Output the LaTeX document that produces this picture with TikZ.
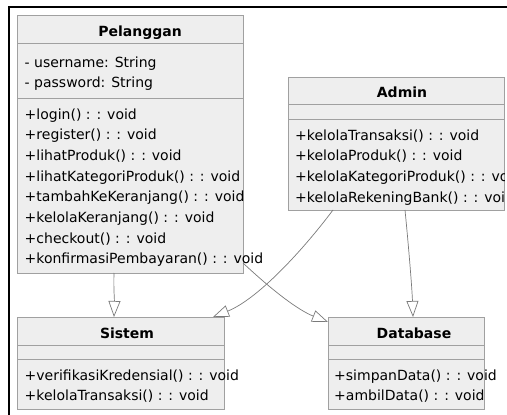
\documentclass[tikz,border=0pt]{standalone}
\usepackage{fontspec}
\setmainfont{DejaVu Sans}
\usetikzlibrary{arrows.meta}
\definecolor{boxfill}{HTML}{EEEEEE}
\definecolor{boxline}{HTML}{A0A0A0}
\definecolor{linkgray}{HTML}{7A7A7A}
\tikzset{
  umlbox/.style={draw=boxline, fill=boxfill, line width=0.8pt, anchor=north west,
    inner sep=0pt, outer sep=0pt},
  sepline/.style={draw=boxline, line width=0.8pt},
  member/.style={anchor=base west, inner sep=0pt, font=\fontsize{14}{16}\selectfont},
  classname/.style={anchor=base, inner sep=0pt, font=\fontsize{14}{16}\selectfont\bfseries},
  link/.style={draw=linkgray, line width=0.7pt,
    -{Triangle[length=16pt, width=12pt, fill=white, line width=0.7pt]}},
  frameline/.style={draw=black, line width=2pt}
}
\begin{document}
\begin{tikzpicture}[x=1pt, y=-1pt]
\useasboundingbox (0,0) rectangle (507,415);

% page frame
\draw[frameline, line width=1.5pt] (8.5,7) -- (507,7);
\draw[frameline] (8.5,6.25) -- (8.5,415);

% ---- class boxes ----
\node[umlbox, minimum width=226pt, minimum height=258pt] (pel) at (17,15) {};
\node[umlbox, minimum width=216pt, minimum height=133pt] (adm) at (288,77) {};
\node[umlbox, minimum width=207pt, minimum height=92pt] (sis) at (17,317) {};
\node[umlbox, minimum width=156pt, minimum height=92pt] (db) at (328,317) {};

% compartment separators
\draw[sepline] (17,43) -- (243,43);
\draw[sepline] (17,98) -- (243,98);
\draw[sepline] (288,104) -- (504,104);
\draw[sepline] (288,119) -- (504,119);
\draw[sepline] (17,345) -- (224,345);
\draw[sepline] (17,359) -- (224,359);
\draw[sepline] (328,345) -- (484,345);
\draw[sepline] (328,359) -- (484,359);

% ---- Pelanggan ----
\node[classname] (pelT) at (140,36) {Pelanggan};
\node[member] (pa1) at (24.5,67) {- username: String};
\node[member] (pa2) at (24.5,87) {- password: String};
\node[member] (pm1) at (24.5,119) {+login() : : void};
\node[member] (pm2) at (24.5,139.7) {+register() : : void};
\node[member] (pm3) at (24.5,160.4) {+lihatProduk() : : void};
\node[member] (pm4) at (24.5,181.1) {+lihatKategoriProduk() : : void};
\node[member] (pm5) at (24.5,201.8) {+tambahKeKeranjang() : : void};
\node[member] (pm6) at (24.5,222.5) {+kelolaKeranjang() : : void};
\node[member] (pm7) at (24.5,243.2) {+checkout() : : void};
\node[member] (pm8) at (24.5,263.9) {+konfirmasiPembayaran() : : void};

% ---- Admin (text cut at the box edge) ----
\node[classname] (admT) at (402,97) {Admin};
\begin{scope}
  \clip (288,119) rectangle (504,210);
  \node[member] (am1) at (295,140) {+kelolaTransaksi() : : void};
  \node[member] (am2) at (295,160.7) {+kelolaProduk() : : void};
  \node[member] (am3) at (295,181.4) {+kelolaKategoriProduk() : : void};
  \node[member] (am4) at (295,202.1) {+kelolaRekeningBank() : : void};
\end{scope}

% ---- Sistem ----
\node[classname] (sisT) at (127,338) {Sistem};
\node[member] (sm1) at (24.5,380) {+verifikasiKredensial() : : void};
\node[member] (sm2) at (24.5,400.7) {+kelolaTransaksi() : : void};

% ---- Database ----
\node[classname] (dbT) at (414,338) {Database};
\node[member] (dm1) at (334,380) {+simpanData() : : void};
\node[member] (dm2) at (334,400.7) {+ambilData() : : void};

% ---- generalisation links ----
\draw[link] ([xshift=97pt]pel.south west) .. controls +(-0.5,16) and +(0.5,-18) .. ([xshift=97pt]sis.north west);
\draw[link] ([yshift=10pt]pel.south east) .. controls +(30,28) and +(-30,-12) .. ([yshift=-5pt]db.north west);
\draw[link] ([xshift=45pt]adm.south west) .. controls +(-30,40) and +(45,-18) .. ([xshift=-11pt]sis.north east);
\draw[link] ([xshift=117pt]adm.south west) .. controls +(3,30) and +(-1,-30) .. ([xshift=85pt]db.north west);
\end{tikzpicture}
\end{document}
